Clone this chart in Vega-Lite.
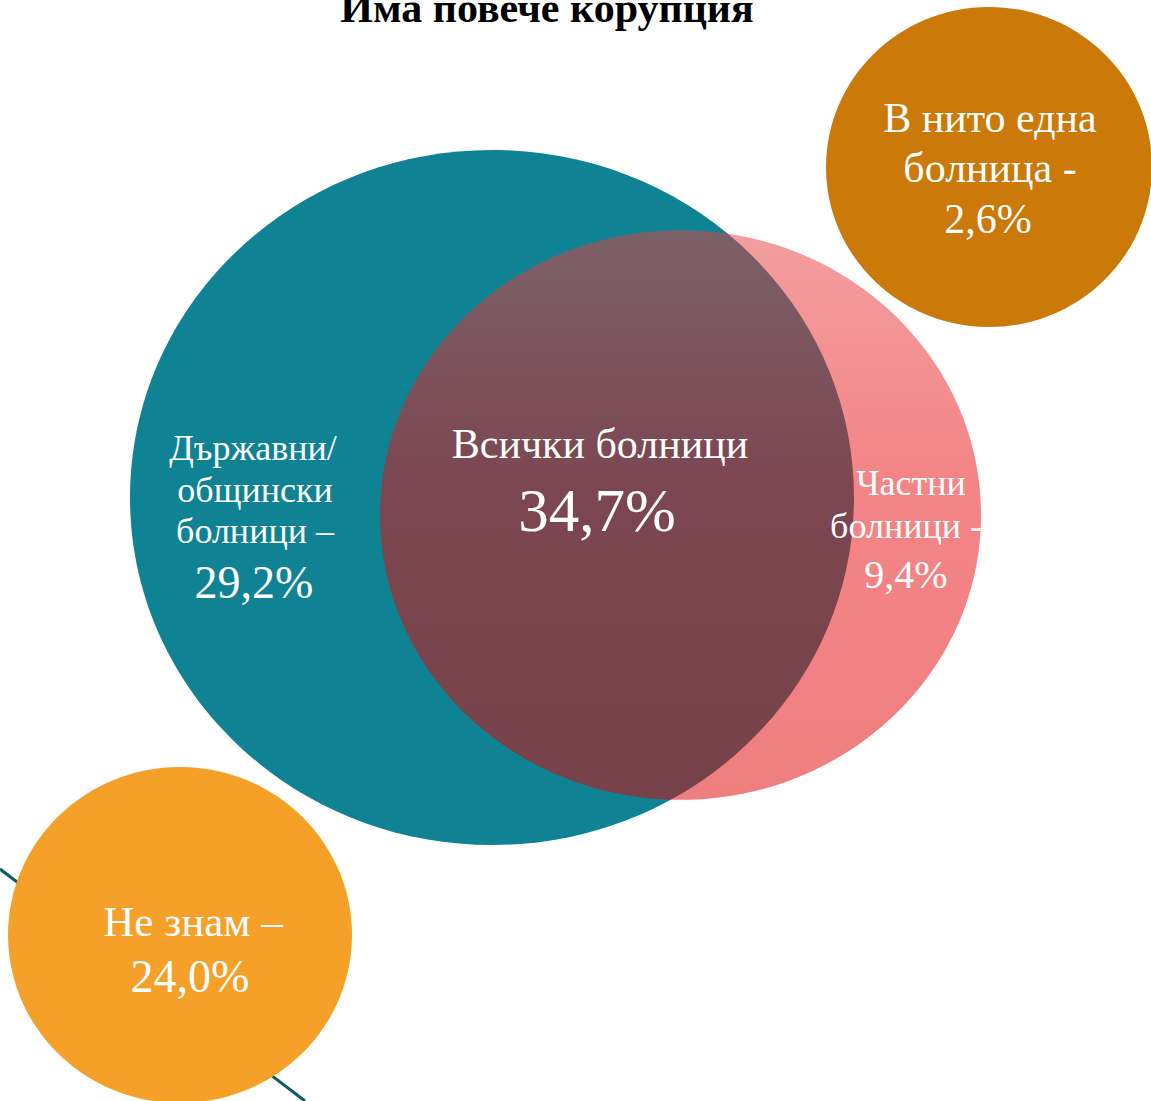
{
  "$schema": "https://vega.github.io/schema/vega-lite/v6.json",
  "width": 1151,
  "height": 1101,
  "padding": 0,
  "autosize": {"type": "none"},
  "background": "white",
  "config": {"view": {"stroke": null}},
  "datasets": {
    "shapes": [
      {"id": "state", "cx": 492, "cy": 497.5},
      {"id": "private", "cx": 680.5, "cy": 515},
      {"id": "none", "cx": 989, "cy": 167},
      {"id": "dontknow", "cx": 180, "cy": 935}
    ],
    "connector": [{"x": 0, "y": 869, "x2": 305, "y2": 1101}],
    "labels": [
      {"area": "title", "part": "name", "text": "Има повече корупция", "cx": 547, "cy": 22},
      {"area": "state", "part": "name", "text": "Държавни/", "cx": 253, "cy": 460},
      {"area": "state", "part": "name", "text": "общински", "cx": 255, "cy": 502},
      {"area": "state", "part": "name", "text": "болници –", "cx": 255, "cy": 543},
      {"area": "state", "part": "value", "text": "29,2%", "cx": 254, "cy": 598},
      {"area": "all", "part": "name", "text": "Всички болници", "cx": 600, "cy": 458},
      {"area": "all", "part": "value", "text": "34,7%", "cx": 597, "cy": 531},
      {"area": "private", "part": "name", "text": "Частни", "cx": 911, "cy": 495},
      {"area": "private", "part": "name", "text": "болници -", "cx": 906, "cy": 538},
      {"area": "private", "part": "value", "text": "9,4%", "cx": 906, "cy": 588},
      {"area": "none", "part": "name", "text": "В нито една", "cx": 990, "cy": 132},
      {"area": "none", "part": "name", "text": "болница -", "cx": 990, "cy": 182},
      {"area": "none", "part": "value", "text": "2,6%", "cx": 988, "cy": 233},
      {"area": "dontknow", "part": "name", "text": "Не знам –", "cx": 193, "cy": 936},
      {"area": "dontknow", "part": "value", "text": "24,0%", "cx": 190, "cy": 992}
    ]
  },
  "encoding": {
    "x": {"field": "cx", "type": "quantitative", "scale": {"domain": [0, 1151], "nice": false, "zero": false}, "axis": null},
    "y": {"field": "cy", "type": "quantitative", "scale": {"domain": [0, 1101], "nice": false, "zero": false, "reverse": true}, "axis": null}
  },
  "layer": [
    {
      "data": {"name": "connector"},
      "mark": {"type": "rule", "color": "#0E5C66", "strokeWidth": 3, "clip": true},
      "encoding": {
        "x": {"field": "x", "type": "quantitative", "scale": {"domain": [0, 1151], "nice": false, "zero": false}, "axis": null},
        "y": {"field": "y", "type": "quantitative", "scale": {"domain": [0, 1101], "nice": false, "zero": false, "reverse": true}, "axis": null},
        "x2": {"field": "x2"},
        "y2": {"field": "y2"}
      }
    },
    {
      "data": {"name": "shapes"},
      "transform": [{"filter": "datum.id === 'state'"}],
      "mark": {"type": "point", "filled": true, "opacity": 1, "strokeWidth": 0, "fill": "#0F8393", "size": 524176, "clip": true,
        "shape": "M-1,0C-1,-0.5302,-0.5523,-0.96,0,-0.96C0.5523,-0.96,1,-0.5302,1,0C1,0.5302,0.5523,0.96,0,0.96C-0.5523,0.96,-1,0.5302,-1,0Z"}
    },
    {
      "data": {"name": "shapes"},
      "transform": [{"filter": "datum.id === 'none'"}],
      "mark": {"type": "point", "filled": true, "opacity": 1, "strokeWidth": 0, "fill": "#CB7908", "size": 106276, "clip": true,
        "shape": "M-1,0C-1,-0.5424,-0.5523,-0.982,0,-0.982C0.5523,-0.982,1,-0.5424,1,0C1,0.5424,0.5523,0.982,0,0.982C-0.5523,0.982,-1,0.5424,-1,0Z"}
    },
    {
      "data": {"name": "shapes"},
      "transform": [{"filter": "datum.id === 'dontknow'"}],
      "mark": {"type": "point", "filled": true, "opacity": 1, "strokeWidth": 0, "fill": "#F5A028", "size": 118336, "clip": true,
        "shape": "M-1,0C-1,-0.5396,-0.5523,-0.977,0,-0.977C0.5523,-0.977,1,-0.5396,1,0C1,0.5396,0.5523,0.977,0,0.977C-0.5523,0.977,-1,0.5396,-1,0Z"}
    },
    {
      "data": {"name": "shapes"},
      "transform": [{"filter": "datum.id === 'private'"}],
      "mark": {"type": "point", "filled": true, "opacity": 1, "fillOpacity": 0.5, "strokeWidth": 0, "size": 361201, "clip": true,
        "fill": {"gradient": "linear", "x1": 0, "y1": 0, "x2": 0, "y2": 1, "stops": [
          {"offset": 0, "color": "rgb(231,62,62)"},
          {"offset": 0.45, "color": "rgb(233,10,14)"},
          {"offset": 1, "color": "rgb(223,0,0)"}
        ]},
        "shape": "M-1,0C-1,-0.5236,-0.5523,-0.948,0,-0.948C0.5523,-0.948,1,-0.5236,1,0C1,0.5236,0.5523,0.948,0,0.948C-0.5523,0.948,-1,0.5236,-1,0Z"}
    },
    {
      "data": {"name": "labels"},
      "transform": [{"filter": "datum.area === 'title'"}],
      "mark": {"type": "text", "font": "Liberation Serif", "fontWeight": "bold", "fontSize": 42, "color": "black", "align": "center", "baseline": "alphabetic"},
      "encoding": {"text": {"field": "text"}}
    },
    {
      "data": {"name": "labels"},
      "transform": [{"filter": "(datum.area === 'state' || datum.area === 'private') && datum.part === 'name'"}],
      "mark": {"type": "text", "font": "Liberation Serif", "fontSize": 36, "color": "white", "align": "center", "baseline": "alphabetic"},
      "encoding": {"text": {"field": "text"}}
    },
    {
      "data": {"name": "labels"},
      "transform": [{"filter": "datum.area === 'state' && datum.part === 'value'"}],
      "mark": {"type": "text", "font": "Liberation Serif", "fontSize": 46, "color": "white", "align": "center", "baseline": "alphabetic"},
      "encoding": {"text": {"field": "text"}}
    },
    {
      "data": {"name": "labels"},
      "transform": [{"filter": "datum.area === 'private' && datum.part === 'value'"}],
      "mark": {"type": "text", "font": "Liberation Serif", "fontSize": 40, "color": "white", "align": "center", "baseline": "alphabetic"},
      "encoding": {"text": {"field": "text"}}
    },
    {
      "data": {"name": "labels"},
      "transform": [{"filter": "(datum.area === 'all' && datum.part === 'name') || datum.area === 'none'"}],
      "mark": {"type": "text", "font": "Liberation Serif", "fontSize": 42, "color": "white", "align": "center", "baseline": "alphabetic"},
      "encoding": {"text": {"field": "text"}}
    },
    {
      "data": {"name": "labels"},
      "transform": [{"filter": "datum.area === 'all' && datum.part === 'value'"}],
      "mark": {"type": "text", "font": "Liberation Serif", "fontSize": 61, "color": "white", "align": "center", "baseline": "alphabetic"},
      "encoding": {"text": {"field": "text"}}
    },
    {
      "data": {"name": "labels"},
      "transform": [{"filter": "datum.area === 'dontknow' && datum.part === 'name'"}],
      "mark": {"type": "text", "font": "Liberation Serif", "fontSize": 43, "color": "white", "align": "center", "baseline": "alphabetic"},
      "encoding": {"text": {"field": "text"}}
    },
    {
      "data": {"name": "labels"},
      "transform": [{"filter": "datum.area === 'dontknow' && datum.part === 'value'"}],
      "mark": {"type": "text", "font": "Liberation Serif", "fontSize": 46, "color": "white", "align": "center", "baseline": "alphabetic"},
      "encoding": {"text": {"field": "text"}}
    }
  ]
}
